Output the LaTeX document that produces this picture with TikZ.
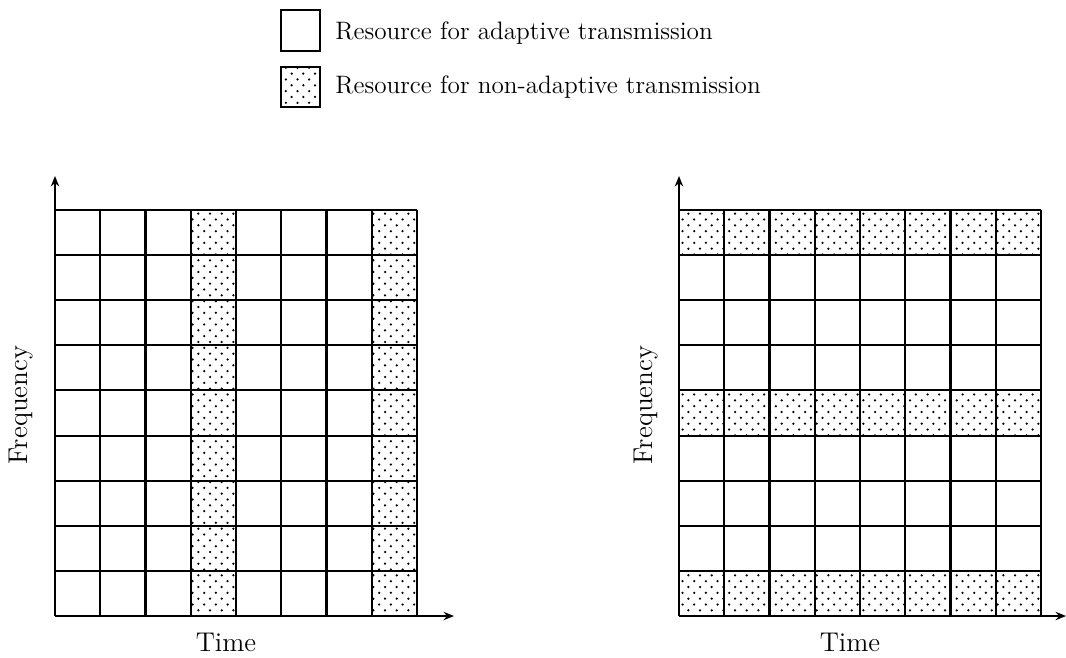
\documentclass[tikz,border=0pt]{standalone}
\usetikzlibrary{patterns.meta,arrows.meta}
\pgfdeclarepattern{
  name=sparsedots,
  type=uncolored,
  bottom left={\pgfpoint{-1pt}{-1pt}},
  top right={\pgfpoint{4.6pt}{4.6pt}},
  tile size={\pgfpoint{5.6pt}{5.6pt}},
  code={
    \pgfpathcircle{\pgfpoint{0pt}{0pt}}{0.6pt}
    \pgfpathcircle{\pgfpoint{2.8pt}{2.8pt}}{0.6pt}
    \pgfusepath{fill}
  }
}
\begin{document}
\begin{tikzpicture}[x=0.48pt,y=-0.48pt,
  gridline/.style={line width=1pt},
  ax/.style={line width=0.8pt,-{Stealth[length=5pt,width=4pt]}},
  hatched/.style={pattern=sparsedots},
  legtxt/.style={inner sep=0pt,font=\fontsize{12.1}{14}\selectfont},
  axtxt/.style={inner sep=0pt,font=\fontsize{13}{15}\selectfont}]
\useasboundingbox (0,0) rectangle (1066,657);
% legend
\draw[gridline] (281,10) rectangle (320,51);
\fill[hatched] (281,67) rectangle (320,107);
\draw[gridline] (281,67) rectangle (320,107);
\node[legtxt,anchor=base west] (l1) at (335,39) {Resource for adaptive transmission};
\node[legtxt,anchor=base west] (l2) at (335,93) {Resource for non-adaptive transmission};
% left grid
\fill[hatched] (190.75,210) rectangle (236,616);
\fill[hatched] (371.75,210) rectangle (417,616);
\foreach \i in {0,...,8} \draw[gridline] ({55+45.25*\i},210) -- ({55+45.25*\i},616);
\foreach \j in {0,...,9} \draw[gridline] (55,{210+45.11*\j}) -- (417,{210+45.11*\j});
\coordinate (o1) at (55,616);
\coordinate (y1) at (55,176);
\coordinate (x1) at (454,616);
\draw[ax] (o1) -- (y1);
\draw[ax] (o1) -- (x1);
\node[axtxt,rotate=90] (f1) at (21,405) {Frequency};
\node[axtxt,anchor=base] (t1) at (226,651) {Time};
% right grid
\fill[hatched] (679,210) rectangle (1041,255.11);
\fill[hatched] (679,390.44) rectangle (1041,435.55);
\fill[hatched] (679,570.89) rectangle (1041,616);
\foreach \i in {0,...,8} \draw[gridline] ({679+45.25*\i},210) -- ({679+45.25*\i},616);
\foreach \j in {0,...,9} \draw[gridline] (679,{210+45.11*\j}) -- (1041,{210+45.11*\j});
\coordinate (o2) at (679,616);
\coordinate (y2) at (679,176);
\coordinate (x2) at (1066,616);
\draw[ax] (o2) -- (y2);
\draw[ax] (o2) -- (x2);
\node[axtxt,rotate=90] (f2) at (646,405) {Frequency};
\node[axtxt,anchor=base] (t2) at (850,651) {Time};
\end{tikzpicture}
\end{document}
